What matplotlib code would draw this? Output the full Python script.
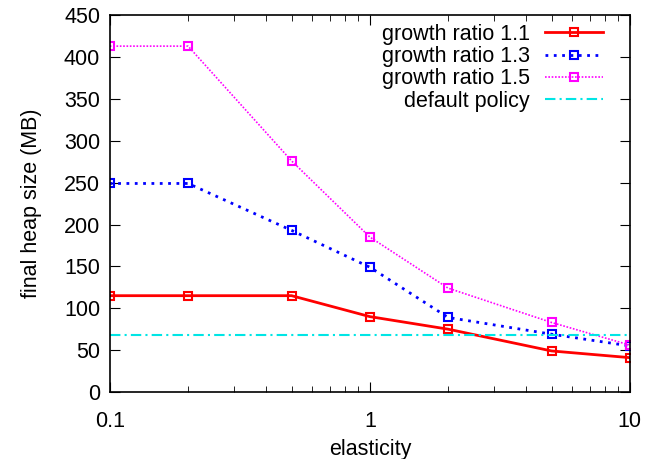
import matplotlib
matplotlib.use('Agg')
import matplotlib.pyplot as plt
from matplotlib.ticker import LogLocator, NullFormatter, FixedLocator, FixedFormatter

plt.rcParams['font.family'] = ['Liberation Sans', 'DejaVu Sans']

# data
elasticity = [0.1, 0.2, 0.5, 1, 2, 5, 10]
ratio_11 = [115, 115, 115, 90, 75, 49, 41]
ratio_13 = [249, 249, 193, 149, 89, 69, 55]
ratio_15 = [413, 413, 276, 185, 124, 83, 56]
default_policy = 68

fs = 15.5

fig = plt.figure(figsize=(6.46, 4.59), dpi=100)
ax = fig.add_axes([0.170, 0.146, 0.805, 0.821])

ax.plot(elasticity, ratio_11, color='#ff0000', lw=2, marker='s', ms=6,
        mfc='none', mew=1.5, label='growth ratio 1.1')
ax.plot(elasticity, ratio_13, color='#0000ff', lw=2, ls=(0, (1, 2)), marker='s', ms=6,
        mfc='none', mew=1.5, label='growth ratio 1.3')
ax.plot(elasticity, ratio_15, color='#ff00ff', lw=1.2, ls=(0, (1, 1)), marker='s', ms=6,
        mfc='none', mew=1.5, label='growth ratio 1.5')
ax.plot([0.1, 10], [default_policy, default_policy], color='#00e5e5', lw=1.5,
        ls=(0, (5, 2, 1, 2)), label='default policy')

ax.set_xscale('log')
ax.set_xlim(0.1, 10)
ax.set_ylim(0, 450)
ax.set_yticks(range(0, 451, 50))
ax.xaxis.set_major_locator(FixedLocator([0.1, 1, 10]))
ax.xaxis.set_major_formatter(FixedFormatter(['0.1', '1', '10']))
ax.xaxis.set_minor_locator(LogLocator(base=10, subs=range(2, 10)))
ax.xaxis.set_minor_formatter(NullFormatter())

ax.tick_params(which='both', direction='in', top=True, right=True, labelsize=fs)
ax.tick_params(axis='x', pad=14)
ax.tick_params(axis='y', pad=7)
ax.tick_params(which='major', length=7)
ax.tick_params(which='minor', length=4)
for s in ax.spines.values():
    s.set_linewidth(1.2)

ax.set_xlabel('elasticity', fontsize=fs, labelpad=5)
ax.set_ylabel('final heap size (MB)', fontsize=fs, labelpad=16)

ax.legend(loc='upper right', frameon=False, markerfirst=False, fontsize=fs, numpoints=1,
          handlelength=2.7, labelspacing=0.06, borderaxespad=0.3, handletextpad=0.7,
          borderpad=0.1, bbox_to_anchor=(0.965, 1.0))

fig.savefig('out.png', dpi=100)
